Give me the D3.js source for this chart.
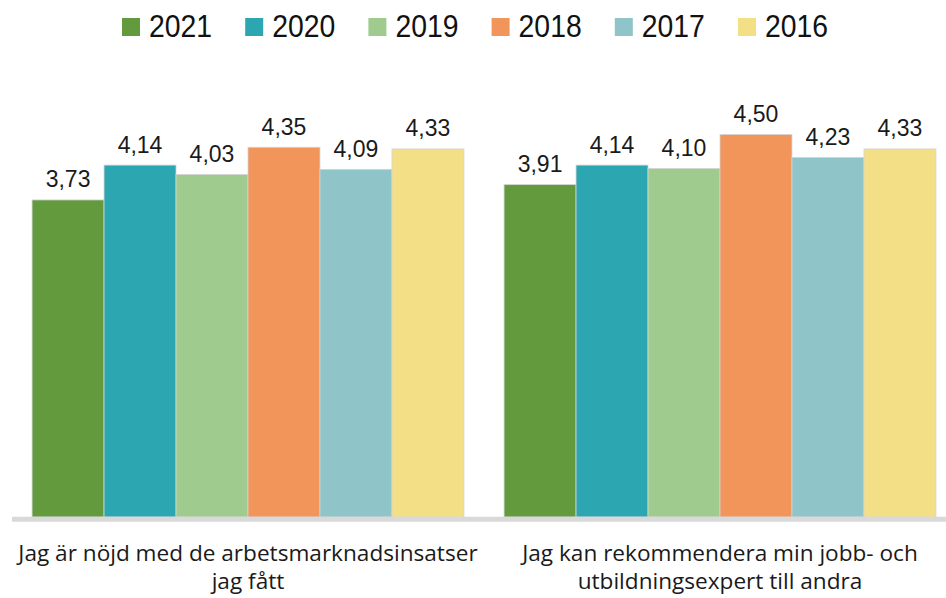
<!DOCTYPE html>
<html>
<head>
<meta charset="utf-8">
<script src="https://cdn.jsdelivr.net/npm/d3@7"></script>
<style>
  html, body { margin: 0; padding: 0; background: #ffffff; }
  svg { display: block; }
</style>
</head>
<body>
<svg id="chart" width="946" height="598"></svg>
<script>
// ---- data ----
const categories = [
  ["Jag är nöjd med de arbetsmarknadsinsatser", "jag fått"],
  ["Jag kan rekommendera min jobb- och", "utbildningsexpert till andra"]
];
const categoryKeys = ["q1", "q2"];
const years = ["2021", "2020", "2019", "2018", "2017", "2016"];
const values2021 = [3.73, 3.91];
const values2020 = [4.14, 4.14];
const values2019 = [4.03, 4.10];
const values2018 = [4.35, 4.50];
const values2017 = [4.09, 4.23];
const values2016 = [4.33, 4.33];
const colors = ["#629a3d", "#2ca7b2", "#9fcb8f", "#f1955b", "#8fc4c9", "#f3df85"];

const seriesValues = [values2021, values2020, values2019, values2018, values2017, values2016];

const svg = d3.select("#chart");

// ---- scales ----
const x0 = d3.scaleBand()
  .domain(categoryKeys)
  .range([12, 956])
  .paddingInner(0.085)
  .paddingOuter(0.0425);

const x1 = d3.scaleBand()
  .domain(years)
  .range([0, x0.bandwidth()])
  .padding(0);

const y = d3.scaleLinear().domain([0, 5]).range([517, 92]);

const fmt = v => d3.format(".2f")(v).replace(".", ",");

// ---- bars ----
const groups = svg.selectAll("g.grp")
  .data(categoryKeys)
  .join("g")
  .attr("class", "grp")
  .attr("transform", d => `translate(${x0(d)},0)`);

groups.each(function(key, ci) {
  const g = d3.select(this);
  const rows = years.map((yr, si) => ({ yr, v: seriesValues[si][ci], c: colors[si] }));
  g.selectAll("rect")
    .data(rows)
    .join("rect")
    .attr("x", d => x1(d.yr))
    .attr("y", d => y(d.v))
    .attr("width", x1.bandwidth())
    .attr("height", d => y(0) - y(d.v))
    .attr("fill", d => d.c)
    .attr("stroke", "#d4d4d4")
    .attr("stroke-width", 0.8);
  g.selectAll("text.val")
    .data(rows)
    .join("text")
    .attr("class", "val")
    .attr("x", d => x1(d.yr) + x1.bandwidth() / 2)
    .attr("y", d => y(d.v) - 12.5)
    .attr("text-anchor", "middle")
    .attr("font-family", "Liberation Sans, Arial, sans-serif")
    .attr("font-size", 23)
    .attr("fill", "#1a1a1a")
    .text(d => fmt(d.v));
});

// ---- axis line ----
svg.append("line")
  .attr("x1", 12).attr("x2", 946)
  .attr("y1", y(0) + 2.3).attr("y2", y(0) + 2.3)
  .attr("stroke", "#d9d9d9")
  .attr("stroke-width", 5);

// ---- category labels ----
categoryKeys.forEach((key, ci) => {
  const cx = x0(key) + x0.bandwidth() / 2;
  categories[ci].forEach((line, li) => {
    svg.append("text")
      .attr("x", cx)
      .attr("y", 561 + li * 28)
      .attr("text-anchor", "middle")
      .attr("font-family", "Open Sans, sans-serif")
      .attr("font-size", 22.6)
      .attr("fill", "#1a1a1a")
      .text(line);
  });
});

// ---- legend ----
const legend = svg.append("g").attr("class", "legend");
years.forEach((yr, i) => {
  const lx = 122 + i * 123.2;
  legend.append("rect")
    .attr("x", lx).attr("y", 18)
    .attr("width", 18).attr("height", 18)
    .attr("fill", colors[i]);
  legend.append("text")
    .attr("transform", `translate(${lx + 27},37) scale(0.93,1)`)
    .attr("font-family", "Liberation Sans, Arial, sans-serif")
    .attr("font-size", 30.5)
    .attr("fill", "#111")
    .text(yr);
});
</script>
</body>
</html>
